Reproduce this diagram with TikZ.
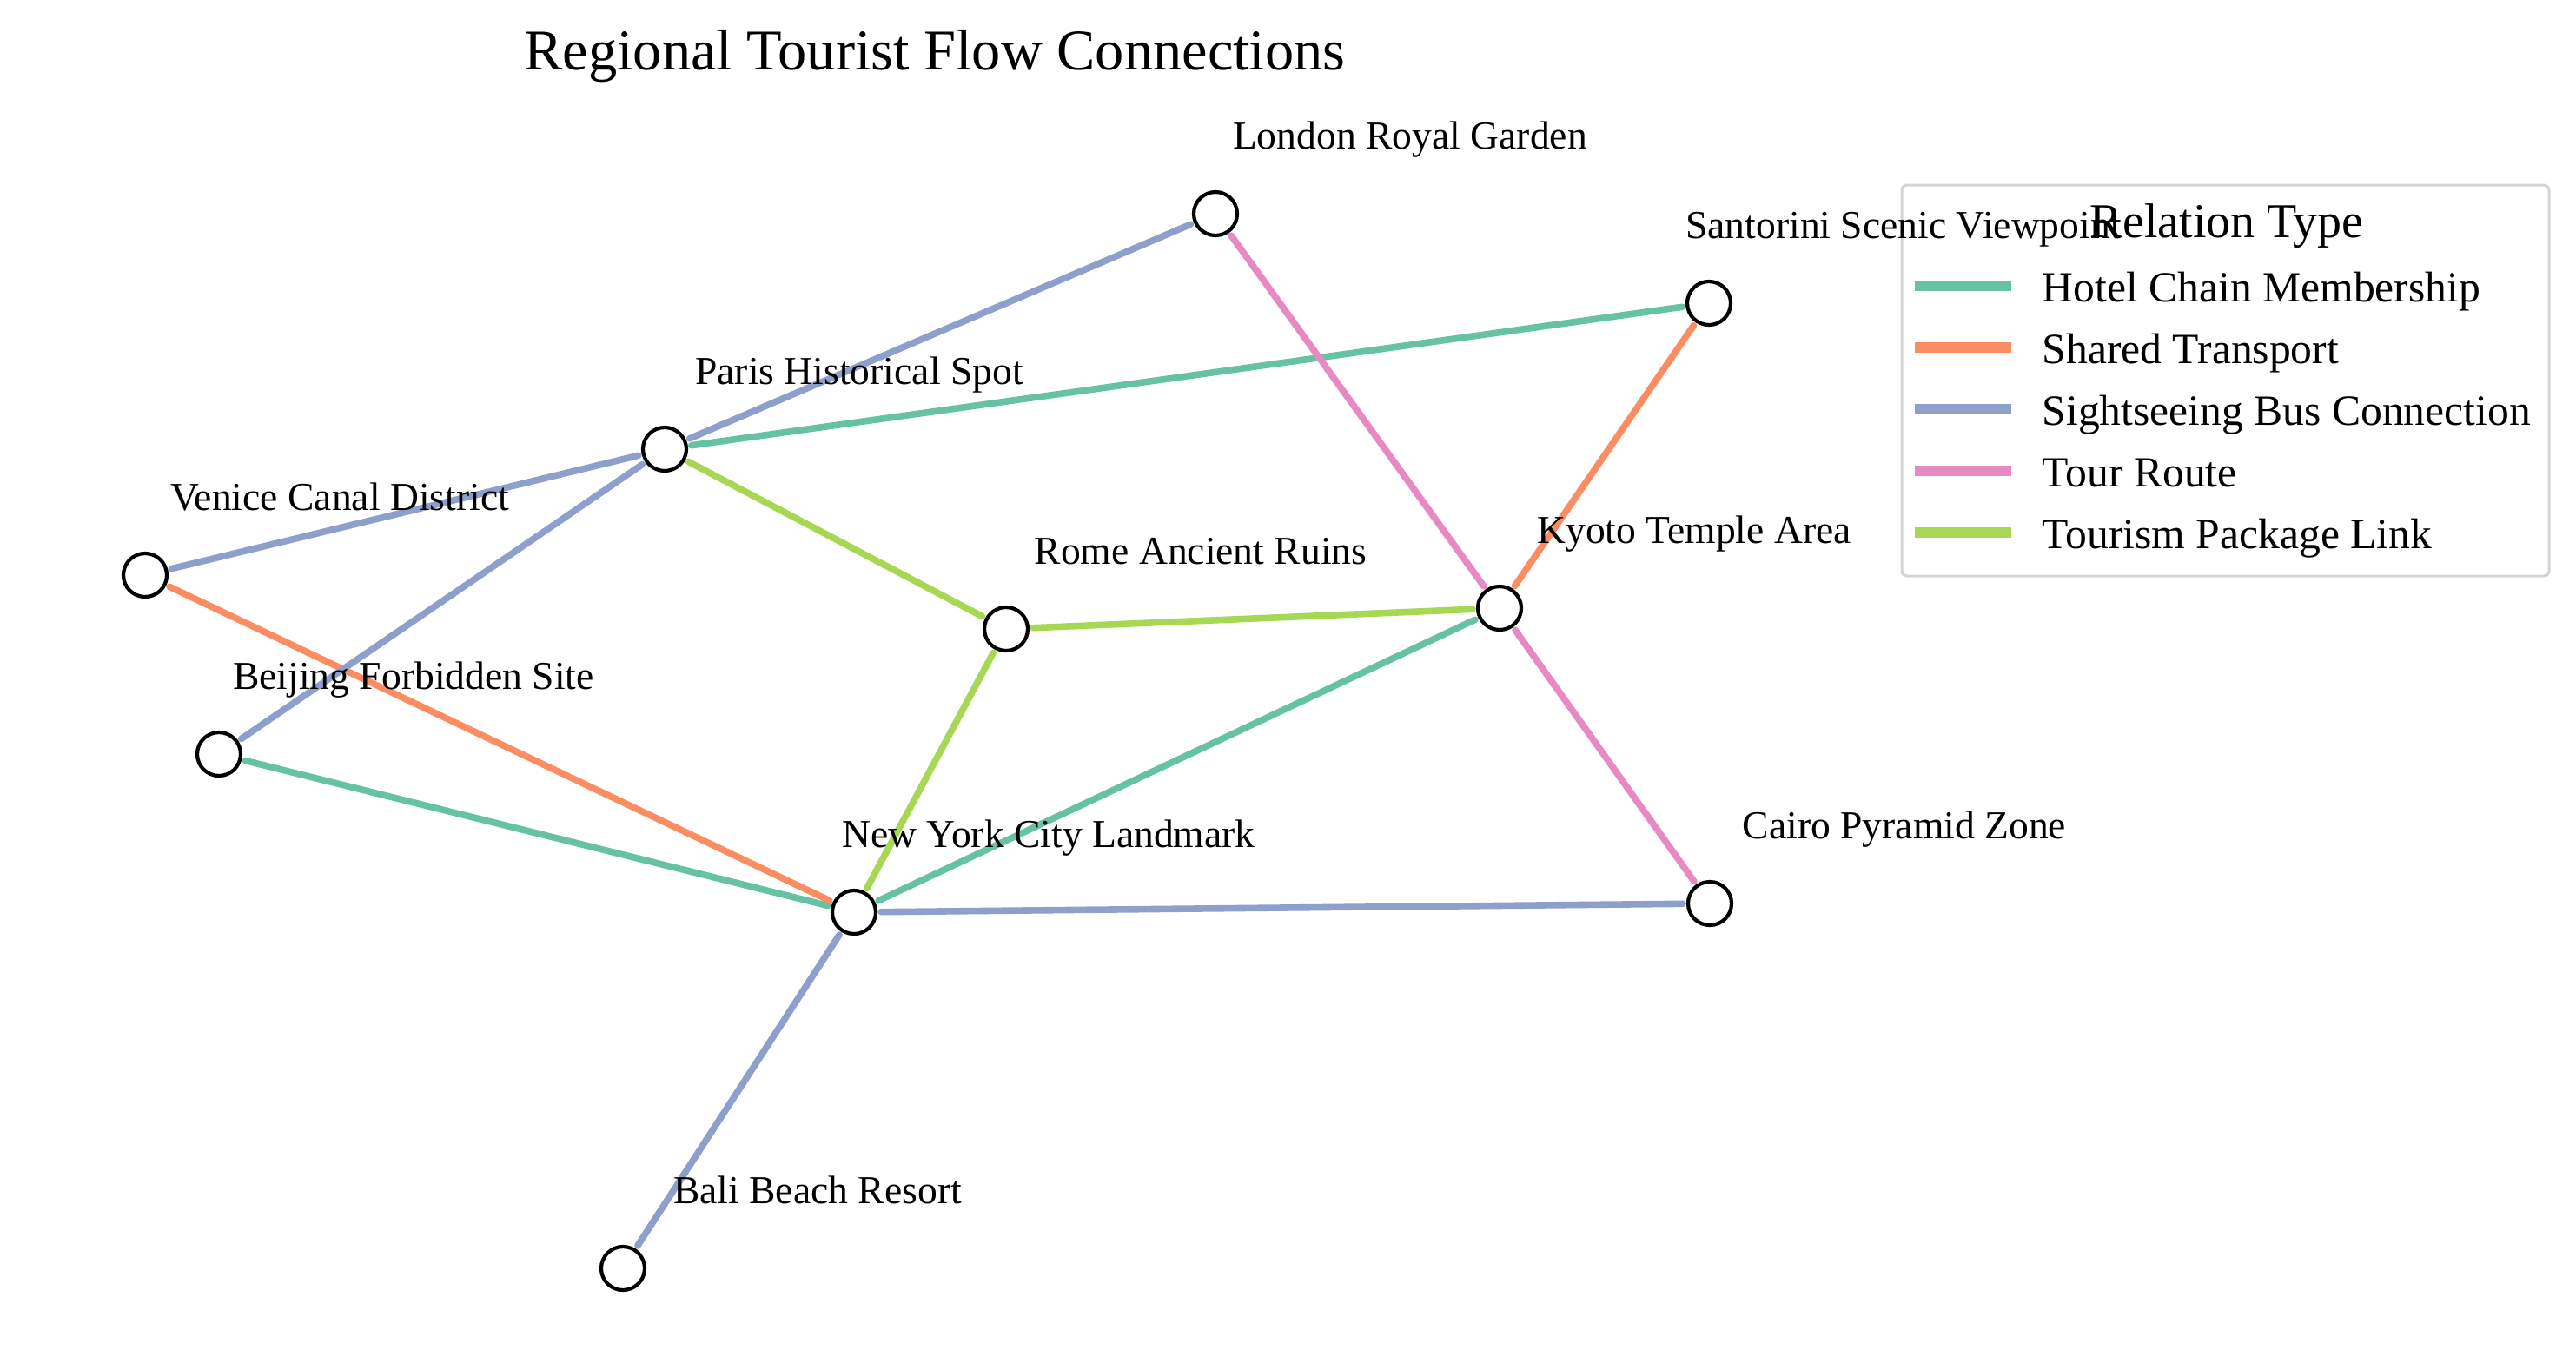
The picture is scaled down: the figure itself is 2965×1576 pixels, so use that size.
\documentclass[tikz,border=0pt]{standalone}
\usepackage{fontspec}
\setmainfont{Liberation Serif}
\usetikzlibrary{calc,backgrounds}

\definecolor{hotel}{HTML}{66C2A5}
\definecolor{transport}{HTML}{FC8D62}
\definecolor{bus}{HTML}{8DA0CB}
\definecolor{tour}{HTML}{E78AC3}
\definecolor{package}{HTML}{A6D854}
\definecolor{framegray}{HTML}{D4D4D4}

\begin{document}
\begin{tikzpicture}[x=0.25pt,y=-0.25pt,
  site/.style={circle,draw=black,line width=1.05pt,fill=white,minimum size=12.5pt,inner sep=0pt},
  link/.style={line width=1.9pt,line cap=round,shorten <=1pt,shorten >=1pt},
  tag/.style={font=\fontsize{11.4}{13}\selectfont,inner sep=0pt,anchor=base},
  keyline/.style={line width=2.9pt},
  keytext/.style={font=\fontsize{12.4}{14}\selectfont,inner sep=0pt,anchor=base west}]

\useasboundingbox (0,0) rectangle (2965,1576);

% title
\node[font=\fontsize{16.6}{19}\selectfont,inner sep=0pt,anchor=base] (title) at (1076,80)
  {Regional Tourist Flow Connections};

% sites
\node[site] (lon) at (1399,246) {};
\node[site] (san) at (1967,349) {};
\node[site] (par) at (765,517) {};
\node[site] (ven) at (167,662) {};
\node[site] (rom) at (1158,724) {};
\node[site] (kyo) at (1726,700) {};
\node[site] (bei) at (252,868) {};
\node[site] (nyc) at (983,1050) {};
\node[site] (cai) at (1968,1040) {};
\node[site] (bal) at (717,1460) {};

% connections, behind the sites
\begin{scope}[on background layer]
  % hotel chain membership
  \draw[link,hotel] (par) -- (san);
  \draw[link,hotel] (bei) -- (nyc);
  \draw[link,hotel] (nyc) -- (kyo);
  % shared transport
  \draw[link,transport] (ven) -- (nyc);
  \draw[link,transport] (kyo) -- (san);
  % sightseeing bus connection
  \draw[link,bus] (par) -- (lon);
  \draw[link,bus] (ven) -- (par);
  \draw[link,bus] (bei) -- (par);
  \draw[link,bus] (nyc) -- (cai);
  \draw[link,bus] (nyc) -- (bal);
  % tour route
  \draw[link,tour] (lon) -- (kyo);
  \draw[link,tour] (kyo) -- (cai);
  % tourism package link
  \draw[link,package] (par) -- (rom);
  \draw[link,package] (rom) -- (kyo);
  \draw[link,package] (rom) -- (nyc);
\end{scope}

% legend frame
\draw[framegray,line width=0.75pt,rounded corners=1.5pt] (2189,213) rectangle (2934,663);
\node[font=\fontsize{14}{16}\selectfont,inner sep=0pt,anchor=base west] (keyhead) at (2405,273) {Relation Type};

\draw[keyline,hotel]     (2204,329) -- (2315,329);
\draw[keyline,transport] (2204,400) -- (2315,400);
\draw[keyline,bus]       (2204,471) -- (2315,471);
\draw[keyline,tour]      (2204,542) -- (2315,542);
\draw[keyline,package]   (2204,613) -- (2315,613);
\node[keytext] (k1) at (2350,347) {Hotel Chain Membership};
\node[keytext] (k2) at (2350,418) {Shared Transport};
\node[keytext] (k3) at (2350,489) {Sightseeing Bus Connection};
\node[keytext] (k4) at (2350,560) {Tour Route};
\node[keytext] (k5) at (2350,631) {Tourism Package Link};

% site names
\node[tag] (lonname) at ($(lon)+(224,-75)$) {London Royal Garden};
\node[tag] (sanname) at ($(san)+(224,-75)$) {Santorini Scenic Viewpoint};
\node[tag] (parname) at ($(par)+(224,-75)$) {Paris Historical Spot};
\node[tag] (venname) at ($(ven)+(224,-75)$) {Venice Canal District};
\node[tag] (romname) at ($(rom)+(224,-75)$) {Rome Ancient Ruins};
\node[tag] (kyoname) at ($(kyo)+(224,-75)$) {Kyoto Temple Area};
\node[tag] (beiname) at ($(bei)+(224,-75)$) {Beijing Forbidden Site};
\node[tag] (nycname) at ($(nyc)+(224,-75)$) {New York City Landmark};
\node[tag] (cainame) at ($(cai)+(224,-75)$) {Cairo Pyramid Zone};
\node[tag] (balname) at ($(bal)+(224,-75)$) {Bali Beach Resort};

\end{tikzpicture}
\end{document}
